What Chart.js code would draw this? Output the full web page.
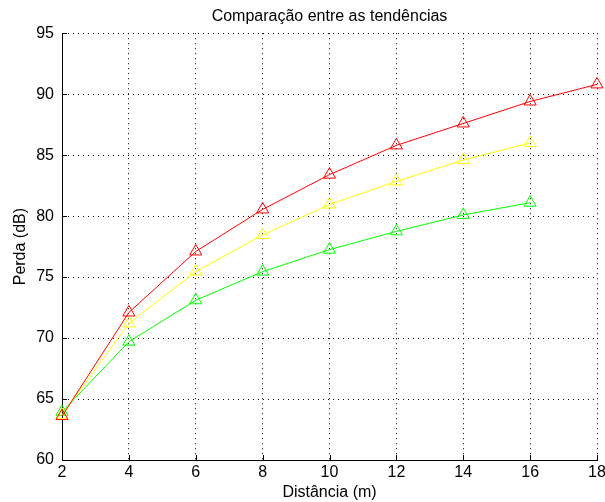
<!DOCTYPE html>
<html>
<head>
<meta charset="utf-8">
<script src="https://cdn.jsdelivr.net/npm/chart.js@4/dist/chart.umd.min.js"></script>
<style>
html,body{margin:0;padding:0;background:#fff;}
#wrap{width:605px;height:502px;}
</style>
</head>
<body>
<div id="wrap"><canvas id="c" width="605" height="502"></canvas></div>
<script>
const distances = [2, 4, 6, 8, 10, 12, 14, 16, 18];
const redLoss    = [63.6, 72.1, 77.1, 80.55, 83.4, 85.8, 87.6, 89.4, 90.8];
const yellowLoss = [63.7, 71.2, 75.45, 78.45, 80.95, 82.85, 84.6, 86.0];
const greenLoss  = [63.95, 69.7, 73.1, 75.45, 77.25, 78.75, 80.1, 81.1];
const titleText = 'Comparação entre as tendências';
const xTitle = 'Distância (m)';
const yTitle = 'Perda (dB)';

const FONT = "'Liberation Sans', Arial, Helvetica, sans-serif";
function pts(vals){ return vals.map((v,i)=>({x:distances[i], y:v})); }
function ds(label, vals, color){
  return {label, data: pts(vals), borderColor: color, backgroundColor: 'rgba(0,0,0,0)',
    borderWidth: 1, pointStyle: 'triangle', pointRadius: 7, pointHoverRadius: 7,
    pointBorderWidth: 1, pointBackgroundColor: 'rgba(0,0,0,0)', pointBorderColor: color,
    tension: 0, clip: false};
}

const inwardTicks = {
  id: 'inwardTicks',
  afterDatasetsDraw(chart){
    const {ctx, chartArea:a, scales:{x, y}} = chart;
    ctx.save();
    ctx.strokeStyle = '#000'; ctx.lineWidth = 1;
    ctx.beginPath();
    x.ticks.forEach(t => { const px = Math.round(x.getPixelForValue(t.value)) + 0.5; ctx.moveTo(px, a.bottom); ctx.lineTo(px, a.bottom - 5); });
    y.ticks.forEach(t => { const py = Math.round(y.getPixelForValue(t.value)) + 0.5; ctx.moveTo(a.left, py); ctx.lineTo(a.left + 5, py); });
    ctx.stroke();
    ctx.restore();
  }
};

new Chart(document.getElementById('c'), {
  type: 'line',
  data: { datasets: [ ds('Vermelho', redLoss, '#ff0000'), ds('Amarelo', yellowLoss, '#ffff00'), ds('Verde', greenLoss, '#00ff00') ] },
  options: {
    responsive: false, animation: false,
    layout: { padding: { left: 0, right: 6, top: 0, bottom: 0 } },
    plugins: {
      legend: { display: false }, tooltip: { enabled: false },
      title: { display: true, fullSize: false, text: titleText, color: '#000', font: { family: FONT, size: 16, weight: 'normal' }, padding: { top: 7, bottom: 7 } }
    },
    scales: {
      x: {
        type: 'linear', min: 2, max: 18,
        ticks: { stepSize: 2, color: '#000', font: { family: FONT, size: 16 }, padding: 3, maxRotation: 0 },
        grid: { color: '#000', lineWidth: 1, drawTicks: false },
        border: { display: true, color: '#000', width: 1, dash: [1, 4] },
        title: { display: true, text: xTitle, color: '#000', font: { family: FONT, size: 16 }, padding: { top: 0, bottom: 0 } },
        afterFit(s){ s.height = 42; s.paddingLeft = 0; s.paddingRight = 0; }
      },
      y: {
        type: 'linear', min: 60, max: 95,
        ticks: { stepSize: 5, color: '#000', font: { family: FONT, size: 16 }, padding: 8 },
        grid: { color: '#000', lineWidth: 1, drawTicks: false },
        border: { display: true, color: '#000', width: 1, dash: [1, 4] },
        title: { display: true, text: yTitle, color: '#000', font: { family: FONT, size: 16 }, padding: { top: 11, bottom: 0 } },
        afterFit(s){ s.width = 62; s.paddingTop = 0; s.paddingBottom = 0; }
      }
    }
  },
  plugins: [inwardTicks]
});
</script>
</body>
</html>
